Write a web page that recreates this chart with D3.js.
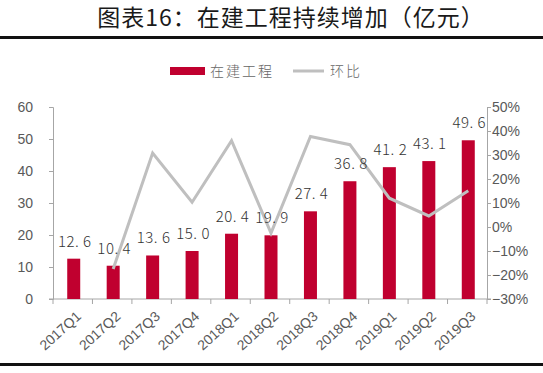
<!DOCTYPE html>
<html><head><meta charset="utf-8">
<script src="https://cdn.jsdelivr.net/npm/d3@7"></script>
<style>
html,body{margin:0;padding:0;background:#fff;}
svg{display:block;}
</style></head>
<body>
<svg id="chart" width="543" height="373"></svg>
<script>
const categories = ["2017Q1","2017Q2","2017Q3","2017Q4","2018Q1","2018Q2","2018Q3","2018Q4","2019Q1","2019Q2","2019Q3"];
const barValues = [12.6,10.4,13.6,15.0,20.4,19.9,27.4,36.8,41.2,43.1,49.6];
const qoqValues = [null,-17.5,30.8,10.3,36.0,-2.5,37.7,34.3,12.0,4.6,15.1];
const leftTicks = [0,10,20,30,40,50,60];
const rightTicks = [-30,-20,-10,0,10,20,30,40,50];
const titleText = "图表16：在建工程持续增加（亿元）";
const legendLabels = ["在建工程","环比"];

const svg = d3.select("#chart");
const W = 543, H = 373;
const m = {left:53, right:487, top:107, bottom:299};
const barColor = "#C0002F", lineColor = "#BFBFBF", axisColor = "#A6A6A6", tickText = "#595959";
const cjk = "'Noto Sans CJK SC', sans-serif";
const latin = "'Liberation Sans', Arial, sans-serif";

// Title
svg.append("text").attr("x", 291).attr("y", 26).attr("text-anchor","middle")
  .attr("font-family", cjk).attr("font-size", 23).attr("font-weight", 400)
  .attr("fill","#1a1a1a").attr("letter-spacing", 1).text(titleText);
svg.append("rect").attr("x",0).attr("y",36).attr("width",W).attr("height",3).attr("fill","#111");
svg.append("rect").attr("x",0).attr("y",363).attr("width",W).attr("height",3).attr("fill","#111");

// Scales
const x = d3.scaleBand().domain(categories).range([m.left, m.right]).paddingInner(0).paddingOuter(0);
const yL = d3.scaleLinear().domain([0,60]).range([m.bottom, m.top]);
const yR = d3.scaleLinear().domain([-30,50]).range([m.bottom, m.top]);

// Left axis
const gL = svg.append("g").attr("transform",`translate(${m.left},0)`)
  .call(d3.axisLeft(yL).tickValues(leftTicks).tickSize(4).tickPadding(16).tickFormat(d3.format("d")));
// Right axis
const gR = svg.append("g").attr("transform",`translate(${m.right},0)`)
  .call(d3.axisRight(yR).tickValues(rightTicks).tickSize(4).tickPadding(1).tickFormat(d => d + "%"));
[gL,gR].forEach(g => {
  g.select(".domain").attr("stroke", axisColor).attr("stroke-width",1);
  g.selectAll(".tick line").attr("stroke", axisColor);
  g.selectAll(".tick text").attr("font-family", latin).attr("font-size", 14).attr("fill", tickText);
});
gR.selectAll(".tick text").text(d => (d < 0 ? "\u2212" + Math.abs(d) : d) + "%");

// X axis with ticks at band boundaries
const gX = svg.append("g").attr("transform",`translate(0,${m.bottom})`);
gX.append("line").attr("x1",m.left-4).attr("x2",m.right+4).attr("y1",0).attr("y2",0).attr("stroke",axisColor);
const bounds = d3.range(categories.length+1).map(i => m.left + i*x.step());
gX.selectAll("line.tk").data(bounds).join("line").attr("class","tk")
  .attr("x1",d=>d).attr("x2",d=>d).attr("y1",0).attr("y2",5).attr("stroke",axisColor);
gX.selectAll("text").data(categories).join("text")
  .attr("transform", d => `translate(${x(d)+x.bandwidth()/2+6},${15}) rotate(-42)`)
  .attr("text-anchor","end").attr("dy","0.35em")
  .attr("font-family", latin).attr("font-size", 14).attr("fill", tickText).text(d=>d);

// Bars
const bw = 13;
svg.append("g").selectAll("rect").data(barValues).join("rect")
  .attr("x",(d,i)=> x(categories[i]) + x.bandwidth()/2 - bw/2 + 1)
  .attr("width", bw)
  .attr("y", d => yL(d)).attr("height", d => yL(0)-yL(d))
  .attr("fill", barColor);

// Line
const line = d3.line().defined(d => d.v !== null)
  .x(d => x(d.c) + x.bandwidth()/2 + 1).y(d => yR(d.v));
svg.append("path").datum(categories.map((c,i)=>({c, v: qoqValues[i]})))
  .attr("d", line).attr("fill","none").attr("stroke", lineColor).attr("stroke-width",3)
  .attr("stroke-linejoin","miter");

// Bar labels
svg.append("g").selectAll("text").data(barValues).join("text")
  .attr("x",(d,i)=> x(categories[i]) + x.bandwidth()/2 + 2)
  .attr("y", d => yL(d) - 12)
  .attr("text-anchor","middle")
  .attr("font-family", cjk).attr("font-size", 15).attr("font-weight", 300).attr("fill","#333")
  .attr("letter-spacing", 0.5)
  .text(d => d.toFixed(1).replace(".", ". "));

// Legend
const lg = svg.append("g");
lg.append("rect").attr("x",170).attr("y",67).attr("width",35).attr("height",8).attr("fill",barColor);
lg.append("text").attr("x",210).attr("y",71).attr("dy","0.35em").attr("font-family",cjk)
  .attr("font-size",14).attr("font-weight",300).attr("fill","#666").attr("letter-spacing",2).text(legendLabels[0]);
lg.append("line").attr("x1",293).attr("x2",324).attr("y1",71).attr("y2",71).attr("stroke",lineColor).attr("stroke-width",3);
lg.append("text").attr("x",330).attr("y",71).attr("dy","0.35em").attr("font-family",cjk)
  .attr("font-size",14).attr("font-weight",300).attr("fill","#666").attr("letter-spacing",2).text(legendLabels[1]);
</script>
</body></html>
